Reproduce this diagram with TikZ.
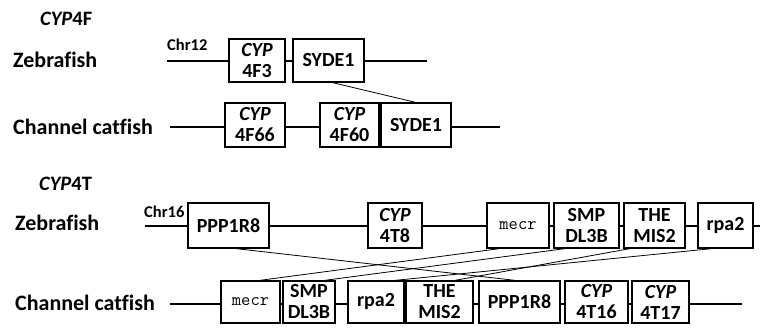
\documentclass[tikz,border=0pt]{standalone}
\usepackage{fontspec}
\setmainfont[Ligatures=NoCommon]{Carlito}
\usetikzlibrary{calc}
\begin{document}
\begin{tikzpicture}[x=1pt,y=-1pt,
  chrom/.style={line width=2.6pt},
  gene/.style={draw, line width=1.4pt, fill=white, inner sep=0pt, align=center,
    font=\bfseries\fontsize{20}{21}\selectfont},
  monogene/.style={gene, font=\ttfamily\fontsize{18}{20}\selectfont},
  link/.style={line width=0.8pt},
  species/.style={anchor=west, inner sep=0pt, font=\bfseries\fontsize{22}{24}\selectfont},
  chr/.style={anchor=west, inner sep=0pt, font=\bfseries\fontsize{16.5}{18}\selectfont},
  family/.style={anchor=west, inner sep=0pt, font=\bfseries\fontsize{20.5}{24}\selectfont}]
\useasboundingbox (0,0) rectangle (760,329);

% ---------- CYP4F ----------
\node[family] (t4f) at (40,18.5) {\textit{CYP}4F};
\node[species] (zf1) at (13,60) {Zebrafish};
\node[chr] (chr12) at (167,45) {Chr12};
\coordinate (l1a) at (167,61);
\coordinate (l1b) at (427,61);
\draw[chrom] (l1a) -- (l1b);
\node[gene, minimum width=56pt, minimum height=43pt] (z4f3) at (257,60.5) {\textit{CYP}\\4F3};
\node[gene, minimum width=71pt, minimum height=43pt] (zsyde) at (328.5,60.5) {SYDE1};

\node[species] (cc1) at (13,127) {Channel catfish};
\coordinate (l2a) at (170,127);
\coordinate (l2b) at (500,127);
\draw[chrom] (l2a) -- (l2b);
\node[gene, minimum width=60pt, minimum height=44pt] (c4f66) at (255,125) {\textit{CYP}\\4F66};
\node[gene, minimum width=59pt, minimum height=44pt] (c4f60) at (349.5,125) {\textit{CYP}\\4F60};
\node[gene, minimum width=70pt, minimum height=44pt] (csyde) at (416,125) {SYDE1};

\draw[link] ($(zsyde.south west)!0.56!(zsyde.south east)$) -- ($(csyde.north west)!0.49!(csyde.north east)$);

% ---------- CYP4T ----------
\node[family] (t4t) at (39,183.5) {\textit{CYP}4T};
\node[species] (zf2) at (15,223) {Zebrafish};
\node[chr] (chr16) at (144,212) {Chr16};
\coordinate (l3a) at (145,226);
\coordinate (l3b) at (760,226);
\draw[chrom] (l3a) -- (l3b);
\node[gene, minimum width=81pt, minimum height=45pt] (zppp) at (228.5,225.5) {PPP1R8};
\node[gene, minimum width=54pt, minimum height=45pt] (z4t8) at (395,225.5) {\textit{CYP}\\4T8};
\node[monogene, minimum width=62pt, minimum height=45pt] (zmecr) at (518,225.5) {mecr};
\node[gene, minimum width=65pt, minimum height=45pt] (zsmp) at (586.5,225.5) {SMP\\DL3B};
\node[gene, minimum width=61pt, minimum height=45pt] (zthe) at (654.5,225.5) {THE\\MIS2};
\node[gene, minimum width=55pt, minimum height=45pt] (zrpa) at (725.5,225.5) {rpa2};

\node[species] (cc2) at (15,303) {Channel catfish};
\coordinate (l4a) at (170,304);
\coordinate (l4b) at (742,304);
\draw[chrom] (l4a) -- (l4b);
\node[monogene, minimum width=59pt, minimum height=42pt] (cmecr) at (250.5,302) {mecr};
\node[gene, minimum width=52pt, minimum height=42pt] (csmp) at (309,302) {SMP\\DL3B};
\node[gene, minimum width=56pt, minimum height=42pt] (crpa) at (376,302) {rpa2};
\node[gene, minimum width=67pt, minimum height=42pt] (cthe) at (439.5,302) {THE\\MIS2};
\node[gene, minimum width=81pt, minimum height=42pt] (cppp) at (519.5,302) {PPP1R8};
\node[gene, minimum width=63pt, minimum height=42pt] (c4t16) at (596.5,302) {\textit{CYP}\\4T16};
\node[gene, minimum width=57pt, minimum height=42pt] (c4t17) at (660.5,302) {\textit{CYP}\\4T17};

\draw[link] ($(zppp.south west)!0.6!(zppp.south east)$) -- ($(cppp.north west)!0.44!(cppp.north east)$);
\draw[link] ($(zmecr.south west)!0.2!(zmecr.south east)$) -- ($(cmecr.north west)!0.66!(cmecr.north east)$);
\draw[link] ($(zsmp.south west)!0.17!(zsmp.south east)$) -- ($(csmp.north west)!0.8!(csmp.north east)$);
\draw[link] ($(zthe.south west)!0.1!(zthe.south east)$) -- ($(cthe.north west)!0.73!(cthe.north east)$);
\draw[link] ($(zrpa.south west)!0.25!(zrpa.south east)$) -- ($(crpa.north west)!0.84!(crpa.north east)$);
\end{tikzpicture}
\end{document}
